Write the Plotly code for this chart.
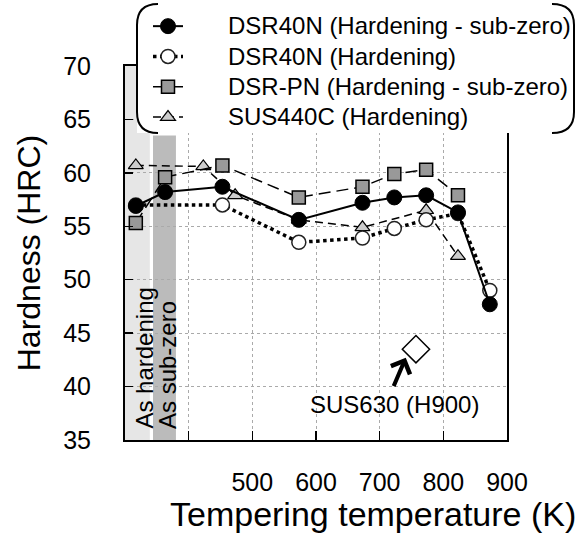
import plotly.graph_objects as go

# ---------------- data ----------------
# x positions: 317 = "As hardening", 363 = "As sub-zero", others = tempering temperature (K)
x_dsr40n_hs = [317, 363, 453, 573, 673, 723, 773, 823, 873]
y_dsr40n_hs = [56.9, 58.2, 58.7, 55.6, 57.2, 57.7, 57.9, 56.3, 47.7]

x_dsr40n_h = [317, 453, 573, 673, 723, 773, 823, 873]
y_dsr40n_h = [57.0, 57.0, 53.5, 53.9, 54.8, 55.6, 56.2, 49.0]

x_dsrpn = [317, 363, 453, 573, 673, 723, 773, 823]
y_dsrpn = [55.3, 59.6, 60.7, 57.7, 58.7, 59.9, 60.3, 57.9]

x_sus440c = [317, 423, 473, 573, 673, 773, 823]
y_sus440c = [60.7, 60.6, 57.9, 55.6, 54.9, 56.5, 52.2]

x_sus630 = [757]
y_sus630 = [43.5]

x_tickvals = [400, 500, 600, 700, 800, 900]
x_ticktext = ["", "500", "600", "700", "800", "900"]
y_tickvals = [35, 40, 45, 50, 55, 60, 65, 70]

names = ["DSR40N (Hardening - sub-zero)", "DSR40N (Hardening)",
         "DSR-PN (Hardening - sub-zero)", "SUS440C (Hardening)"]

FONT = "Liberation Sans, Arial, Helvetica, sans-serif"

# plot area geometry in page pixels (body margin removed via post_script)
PL, PT, PW, PH = 125, 66, 382, 374
W, H = 583, 536
L, T = PL, PT
R = W - L - PW
B = H - T - PH


def px(xpix):
    return (xpix - PL) / PW


def py(ypix):
    return (PT + PH - ypix) / PH


def lg(name):
    pad = "\u00a0" * 6
    return f'<span style="font-size:24px">{pad}{name}</span>'


fig = go.Figure()

fig.add_trace(go.Scatter(
    x=x_sus440c, y=y_sus440c, name=lg(names[3]), legendrank=4, mode="lines+markers",
    line=dict(color="black", width=1.5, dash="8px,5px"),
    marker=dict(symbol="triangle-up", size=13, color="#cccccc",
                line=dict(color="black", width=1.2))))

fig.add_trace(go.Scatter(
    x=x_dsr40n_h, y=y_dsr40n_h, name=lg(names[1]), legendrank=2, mode="lines+markers",
    line=dict(color="black", width=3.5, dash="dot"),
    marker=dict(symbol="circle", size=14, color="white",
                line=dict(color="#222222", width=1.5))))

fig.add_trace(go.Scatter(
    x=x_dsrpn, y=y_dsrpn, name=lg(names[2]), legendrank=3, mode="lines+markers",
    line=dict(color="black", width=1.5, dash="12px,6px"),
    marker=dict(symbol="square", size=13, color="#999999",
                line=dict(color="black", width=1.5))))

fig.add_trace(go.Scatter(
    x=x_dsr40n_hs, y=y_dsr40n_hs, name=lg(names[0]), legendrank=1, mode="lines+markers",
    line=dict(color="black", width=2),
    marker=dict(symbol="circle", size=15, color="black",
                line=dict(color="black", width=1))))

fig.add_trace(go.Scatter(
    x=x_sus630, y=y_sus630, mode="markers", showlegend=False,
    marker=dict(symbol="diamond", size=21, color="white",
                line=dict(color="black", width=1.5))))

shapes = [
    # shaded regions
    dict(type="rect", xref="x", yref="y", x0=300, x1=339, y0=35, y1=70,
         fillcolor="#e6e6e6", line=dict(width=0), layer="below"),
    dict(type="rect", xref="x", yref="y", x0=344, x1=380, y0=35, y1=63.5,
         fillcolor="#bbbbbb", line=dict(width=0), layer="below"),
    # legend background
    dict(type="rect", xref="paper", yref="paper", x0=px(137), x1=px(574),
         y0=py(133), y1=py(3), fillcolor="white", line=dict(width=0), layer="above"),
    # legend brackets
    dict(type="path", xref="paper", yref="paper", layer="above",
         path=(f"M{px(158)},{py(4)} Q{px(137)},{py(4)} {px(137)},{py(25)} "
               f"L{px(137)},{py(112)} Q{px(137)},{py(133)} {px(158)},{py(133)}"),
         line=dict(color="black", width=2)),
    dict(type="path", xref="paper", yref="paper", layer="above",
         path=(f"M{px(552)},{py(4)} Q{px(574)},{py(4)} {px(574)},{py(25)} "
               f"L{px(574)},{py(112)} Q{px(574)},{py(133)} {px(552)},{py(133)}"),
         line=dict(color="black", width=2)),
]

annotations = [
    dict(x=330, y=35, xref="x", yref="y", text="As hardening", textangle=-90,
         showarrow=False, xanchor="center", yanchor="bottom", yshift=9,
         font=dict(family=FONT, size=24, color="black")),
    dict(x=366, y=35, xref="x", yref="y", text="As sub-zero", textangle=-90,
         showarrow=False, xanchor="center", yanchor="bottom", yshift=9,
         font=dict(family=FONT, size=24, color="black")),
    dict(x=724, y=38.3, xref="x", yref="y", text="SUS630 (H900)", showarrow=False,
         xanchor="center", yanchor="middle",
         font=dict(family=FONT, size=24, color="black")),
    dict(x=741, y=42.7, xref="x", yref="y", ax=721, ay=39.9, axref="x", ayref="y",
         text="", showarrow=True, arrowhead=4, arrowsize=1, arrowwidth=4,
         arrowcolor="black"),
    # x-axis title (offset to the right as in the original)
    dict(x=px(373), y=py(514), xref="paper", yref="paper",
         text="Tempering temperature (K)", showarrow=False,
         xanchor="center", yanchor="middle",
         font=dict(family=FONT, size=34, color="black")),
]

fig.update_layout(
    template="none",
    width=W, height=H,
    margin=dict(l=L, r=R, t=T, b=B, pad=0, autoexpand=False),
    paper_bgcolor="white", plot_bgcolor="white",
    font=dict(family=FONT, color="black"),
    shapes=shapes, annotations=annotations,
    showlegend=True, hovermode=False,
    legend=dict(x=px(148), y=py(6), xanchor="left", yanchor="top",
                bgcolor="rgba(0,0,0,0)", borderwidth=0,
                font=dict(family=FONT, size=21, color="black"),
                itemwidth=30, tracegroupgap=0),
)

fig.update_xaxes(
    range=[300, 900], tickvals=x_tickvals, ticktext=x_ticktext, automargin=False,
    ticks="inside", ticklen=9, tickwidth=1.5, tickcolor="black",
    showline=True, linecolor="black", linewidth=2, mirror=True,
    showgrid=True, gridcolor="#aaaaaa", gridwidth=1, griddash="dot",
    zeroline=False, ticklabelstandoff=19,
    tickfont=dict(family=FONT, size=25, color="black"),
)

fig.update_yaxes(
    range=[35, 70], tickvals=y_tickvals, automargin=False,
    ticks="inside", ticklen=8, tickwidth=1.5, tickcolor="black",
    showline=True, linecolor="black", linewidth=2, mirror=True,
    showgrid=True, gridcolor="#aaaaaa", gridwidth=1, griddash="dot",
    zeroline=False, ticklabelstandoff=27,
    tickfont=dict(family=FONT, size=25, color="black"),
    title=dict(text="Hardness (HRC)", standoff=13,
               font=dict(family=FONT, size=32, color="black")),
)

fig.write_html(
    "out.html",
    config={"displayModeBar": False, "staticPlot": True},
    post_script="document.body.style.margin='0';document.body.style.overflow='hidden';",
)
